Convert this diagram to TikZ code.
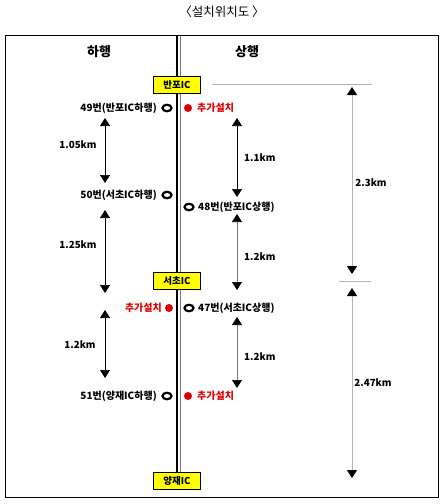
\documentclass[tikz,border=0pt]{standalone}
\usepackage{fontspec}
\setmainfont{Noto Sans CJK KR}
\usetikzlibrary{arrows.meta, positioning, shapes.geometric, backgrounds}
\definecolor{icyellow}{HTML}{FFFF00}
\definecolor{addred}{HTML}{E00000}
\definecolor{guidegray}{HTML}{B4B4B4}
\definecolor{shaftgray}{HTML}{777777}

\begin{document}
\begin{tikzpicture}[
        x=1pt, y=-1pt,
        icbox/.style={
            draw,
            fill=icyellow,
            minimum width=47pt,
            minimum height=17pt,
            inner sep=0pt,
            font=\fontsize{9.5}{10}\selectfont\bfseries
        },
        header/.style={font=\fontsize{13}{14}\selectfont\bfseries},
        stationtext/.style={font=\fontsize{10}{11}\selectfont\bfseries, inner sep=0pt},
        addtext/.style={stationtext, text=addred},
        oldcam/.style={draw, ellipse, line width=2.2pt, minimum width=9pt, minimum height=6.5pt, inner sep=0pt},
        newcam/.style={circle, fill=addred, minimum size=8pt, inner sep=0pt},
        distlabel/.style={font=\fontsize{9.8}{10}\selectfont\bfseries, inner sep=0pt},
        distarrow/.style={{Triangle[width=10pt,length=8pt,color=black]}-{Triangle[width=10pt,length=8pt,color=black]}, line width=0.7pt},
        longarrow/.style={distarrow, guidegray, line width=1pt},
        guideline/.style={guidegray, line width=1pt}
    ]
        \useasboundingbox (0,0) rectangle (444,504);
        \node[font=\fontsize{12.5}{13}\selectfont] (title) at (222,12) {〈설치위치도 〉};
        \draw[line width=1pt] (5,35) rectangle (438,497);
        \node[header] (down) at (99,52) {하행};
        \node[header] (up) at (247,52) {상행};

        % interchanges and road
        \node[icbox] (banpo) at (177,85) {반포IC};
        \node[icbox] (seocho) at (177,281) {서초IC};
        \node[icbox] (yangjae) at (177,481) {양재IC};
        \coordinate (roadtop) at (177,36);
        \begin{pgfonlayer}{background}
            \draw[line width=1.6pt] (roadtop) -- (yangjae.north);
            \draw[shaftgray, line width=0.8pt] ([xshift=3pt]roadtop) -- ([xshift=3pt]yangjae.north);
        \end{pgfonlayer}

        % left side
        \node[oldcam] (c49) at (167,108) {};
        \node[stationtext, anchor=east] (t49) at (157,108) {49번(반포IC하행)};
        \node[oldcam] (c50) at (167,195) {};
        \node[stationtext, anchor=east] (t50) at (157,195) {50번(서초IC하행)};
        \node[newcam] (n1) at (169,308) {};
        \node[addtext, anchor=east] (a1) at (162,308) {추가설치};
        \node[oldcam] (c51) at (167,396) {};
        \node[stationtext, anchor=east] (t51) at (157,396) {51번(양재IC하행)};

        % right side
        \node[newcam] (n2) at (188,108) {};
        \node[addtext, anchor=west] (a2) at (197,108) {추가설치};
        \node[oldcam] (c48) at (189,207) {};
        \node[stationtext, anchor=west] (t48) at (198,207) {48번(반포IC상행)};
        \node[oldcam] (c47) at (189,308) {};
        \node[stationtext, anchor=west] (t47) at (198,308) {47번(서초IC상행)};
        \node[newcam] (n3) at (188,396) {};
        \node[addtext, anchor=west] (a3) at (197,396) {추가설치};

        % distances, down line
        \coordinate (l1a) at (105,118);
        \coordinate (l1b) at (105,183);
        \coordinate (l2a) at (105,210);
        \coordinate (l2b) at (105,293);
        \coordinate (l3a) at (105,310);
        \coordinate (l3b) at (105,378);
        \draw[distarrow] (l1a) -- (l1b);
        \draw[distarrow] (l2a) -- (l2b);
        \draw[distarrow] (l3a) -- (l3b);
        \node[distlabel] (d105) at (78,145) {1.05km};
        \node[distlabel] (d125) at (78,245) {1.25km};
        \node[distlabel] (d12l) at (80,345) {1.2km};

        % distances, up line
        \coordinate (r1a) at (237,118);
        \coordinate (r1b) at (237,197);
        \coordinate (r2a) at (237,214);
        \coordinate (r2b) at (237,290);
        \coordinate (r3a) at (237,317);
        \coordinate (r3b) at (237,388);
        \draw[distarrow] (r1a) -- (r1b);
        \draw[distarrow, shaftgray] (r2a) -- (r2b);
        \draw[distarrow, shaftgray] (r3a) -- (r3b);
        \node[distlabel, anchor=west] (d11) at (244,158) {1.1km};
        \node[distlabel, anchor=west] (d12a) at (244,257) {1.2km};
        \node[distlabel, anchor=west] (d12b) at (244,357) {1.2km};

        % interchange spans
        \coordinate (g1a) at (212,84);
        \coordinate (g1b) at (372,84);
        \coordinate (g2a) at (339,281);
        \coordinate (g2b) at (371,281);
        \draw[guideline] (g1a) -- (g1b);
        \draw[guideline] (g2a) -- (g2b);
        \coordinate (s1a) at (352,87);
        \coordinate (s1b) at (352,274);
        \coordinate (s2a) at (352,288);
        \coordinate (s2b) at (352,478);
        \draw[longarrow] (s1a) -- (s1b);
        \draw[longarrow] (s2a) -- (s2b);
        \node[distlabel] (d23) at (371,183) {2.3km};
        \node[distlabel] (d247) at (373,383) {2.47km};
    \end{tikzpicture}
\end{document}
